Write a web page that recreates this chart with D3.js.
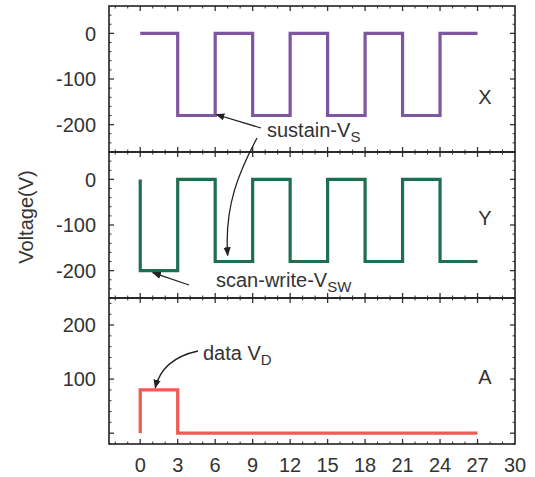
<!DOCTYPE html>
<html>
<head>
<meta charset="utf-8">
<script src="https://cdn.jsdelivr.net/npm/d3@7"></script>
<style>
  body { margin: 0; background: #fff; }
  text { font-family: "Liberation Sans", Arial, sans-serif; fill: #333; }
</style>
</head>
<body>
<div id="vis"></div>
<script>
// time axis ticks (shared)
const timeTicks = [0, 3, 6, 9, 12, 15, 18, 21, 24, 27, 30];

// waveforms as step points [t, V]
const xWave = [[0, 0], [3, 0], [3, -180], [6, -180], [6, 0], [9, 0], [9, -180], [12, -180], [12, 0],
  [15, 0], [15, -180], [18, -180], [18, 0], [21, 0], [21, -180], [24, -180], [24, 0], [27, 0]];
const yWave = [[0, 0], [0, -200], [3, -200], [3, 0], [6, 0], [6, -180], [9, -180], [9, 0], [12, 0],
  [12, -180], [15, -180], [15, 0], [18, 0], [18, -180], [21, -180], [21, 0], [24, 0], [24, -180], [27, -180]];
const aWave = [[0, 0], [0, 80], [3, 80], [3, 0], [27, 0]];

const panelNames = ["X", "Y", "A"];
const panelTicks = [[0, -100, -200], [0, -100, -200], [200, 100]];
const panelDomains = [[-260, 60], [-260, 60], [-20, 250]];

const width = 535, height = 477;
const left = 109, right = 515;
const panelTops = [6, 152, 298];
const panelH = 146;

const svg = d3.select("#vis").append("svg")
  .attr("width", width).attr("height", height);

const x = d3.scaleLinear().domain([-2.5, 30]).range([left, right]);

const panels = [
  { data: xWave, color: "#7d55a0", labelY: 97 },
  { data: yWave, color: "#1e6e50", labelY: 218 },
  { data: aWave, color: "#ef5a52", labelY: 377 }
];

panels.forEach((p, i) => {
  const top = panelTops[i];
  const y = d3.scaleLinear().domain(panelDomains[i]).range([top + panelH, top]);
  const g = svg.append("g");

  // minor ticks every 1 on time axis, every 20 on voltage axis
  const minorX = d3.range(-2, 30, 1);
  const minorY = d3.range(Math.ceil(panelDomains[i][0] / 20) * 20, panelDomains[i][1], 20);

  minorX.forEach(t => {
    const major = timeTicks.includes(t);
    const len = major ? 5 : 2.5;
    g.append("line").attr("x1", x(t)).attr("x2", x(t))
      .attr("y1", top).attr("y2", top + len).attr("stroke", "#333").attr("stroke-width", major ? 1.3 : 1);
    g.append("line").attr("x1", x(t)).attr("x2", x(t))
      .attr("y1", top + panelH).attr("y2", top + panelH - len).attr("stroke", "#333").attr("stroke-width", major ? 1.3 : 1);
  });
  minorY.forEach(v => {
    const major = v % 100 === 0;
    const len = major ? 5 : 2.5;
    g.append("line").attr("x1", left).attr("x2", left + len)
      .attr("y1", y(v)).attr("y2", y(v)).attr("stroke", "#333").attr("stroke-width", major ? 1.3 : 1);
    g.append("line").attr("x1", right).attr("x2", right - len)
      .attr("y1", y(v)).attr("y2", y(v)).attr("stroke", "#333").attr("stroke-width", major ? 1.3 : 1);
  });

  g.append("rect").attr("x", left).attr("y", top).attr("width", right - left).attr("height", panelH)
    .attr("fill", "none").attr("stroke", "#222").attr("stroke-width", 1.6);

  // voltage labels
  g.selectAll(".ylab").data(panelTicks[i]).enter().append("text")
    .attr("x", 96).attr("y", d => y(d)).attr("dy", "0.36em")
    .attr("text-anchor", "end").style("font-size", "20px").text(d => d);

  const line = d3.line().x(d => x(d[0])).y(d => y(d[1]));
  g.append("path").datum(p.data).attr("d", line)
    .attr("fill", "none").attr("stroke", p.color).attr("stroke-width", 3.2)
    .attr("stroke-linejoin", "miter");

  g.append("text").attr("x", 485).attr("y", p.labelY)
    .attr("text-anchor", "middle").attr("dy", "0.36em").style("font-size", "20px").text(panelNames[i]);

  p.y = y;
});

// time labels
svg.selectAll(".xlab").data(timeTicks).enter().append("text")
  .attr("x", d => x(d)).attr("y", 472).attr("text-anchor", "middle")
  .style("font-size", "20px").text(d => d);

// axis title
svg.append("text").attr("transform", "translate(33,217) rotate(-90)")
  .attr("text-anchor", "middle").style("font-size", "20px").text("Voltage(V)");

// arrows
const defs = svg.append("defs");
defs.append("marker").attr("id", "arr").attr("viewBox", "0 0 10 10")
  .attr("refX", 9).attr("refY", 5).attr("markerWidth", 7).attr("markerHeight", 7)
  .attr("orient", "auto-start-reverse")
  .append("path").attr("d", "M0,1 L10,5 L0,9 Z").attr("fill", "#222");

const yX = panels[0].y, yY = panels[1].y, yA = panels[2].y;

function arrow(d) {
  svg.append("path").attr("d", d).attr("fill", "none").attr("stroke", "#222")
    .attr("stroke-width", 1.3).attr("marker-end", "url(#arr)");
}
arrow(`M261,128 L${x(6) + 1},${yX(-180) - 1}`);
arrow(`M257,138 C240,170 224,205 ${x(7)},${yY(-180) - 6}`);
arrow(`M189,285 L${x(1)},${yY(-200) + 2}`);
arrow(`M198,351 C175,356 160,368 ${x(1.2)},${yA(80) - 2}`);

function subText(tx, ty, main, sub) {
  const t = svg.append("text").attr("x", tx).attr("y", ty).style("font-size", "20px");
  t.append("tspan").text(main);
  t.append("tspan").attr("dy", 5).style("font-size", "15px").text(sub);
}
subText(267, 137, "sustain-V", "S");
subText(216, 287, "scan-write-V", "SW");
subText(203, 360, "data V", "D");
</script>
</body>
</html>
